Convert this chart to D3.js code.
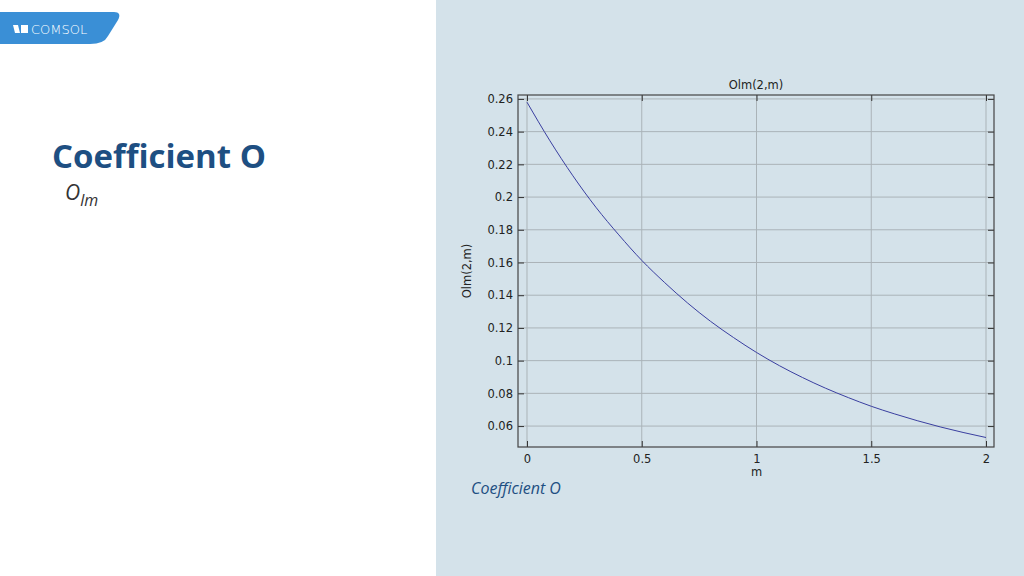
<!DOCTYPE html><html><head><script src="https://cdn.jsdelivr.net/npm/d3@7"></script>
<style>body{margin:0}svg{display:block}</style></head><body><svg id="c" width="1024" height="576"></svg>
<script>
const mValues=[0,0.1,0.2,0.3,0.4,0.5,0.6,0.7,0.8,0.9,1.0,1.1,1.2,1.3,1.4,1.5,1.6,1.7,1.8,1.9,2.0];
const olmValues=[0.258,0.2344,0.2130,0.1938,0.1769,0.1613,0.1477,0.1352,0.1240,0.1141,0.1050,0.0969,0.0897,0.0832,0.0774,0.0721,0.0675,0.0633,0.0595,0.0561,0.053];
const xTicks=[0,0.5,1,1.5,2];
const yTicks=[0.06,0.08,0.1,0.12,0.14,0.16,0.18,0.2,0.22,0.24,0.26];
const svg=d3.select("#c");
svg.append("rect").attr("width",1024).attr("height",576).attr("fill","#fff");
svg.append("rect").attr("x",436).attr("width",588).attr("height",576).attr("fill","#d4e2ea");
svg.append("path").attr("d","M0,12 H114 Q122,12 118,20 L108,36 Q104,44 90,44 H0 Z").attr("fill","#3a8fd6");
svg.append("text").attr("x",31).attr("y",34).attr("fill","#fff").attr("font-family","DejaVu Sans").attr("font-size",13).attr("font-weight",300).text("COMSOL");
svg.append("path").attr("d","M13,25 L18,25 L20,33 L15,33 Z").attr("fill","#fff");
svg.append("rect").attr("x",21).attr("y",25).attr("width",7).attr("height",8).attr("fill","#fff");
svg.append("text").attr("x",52).attr("y",168).attr("fill","#1e4f82").attr("font-family","Open Sans").attr("font-weight",700).attr("font-size",33).text("Coefficient O");
const s=svg.append("text").attr("x",65).attr("y",200).attr("fill","#333").attr("font-family","Open Sans").attr("font-style","italic").attr("font-size",21);
s.append("tspan").text("O");s.append("tspan").attr("dy",6).attr("font-size",16).text("lm");
svg.append("text").attr("x",471).attr("y",494).attr("fill","#1e4f82").attr("font-family","Open Sans").attr("font-style","italic").attr("font-size",16).text("Coefficient O");
const L=518,R=994,T=95,B=447;
const x=d3.scaleLinear().domain([-0.0392,2.0348]).range([L,R]);
const y=d3.scaleLinear().domain([0.0472,0.2624]).range([B,T]);
const g=svg.append("g");
g.selectAll(".gx").data(xTicks).join("line").attr("x1",d=>x(d)).attr("x2",d=>x(d)).attr("y1",T).attr("y2",B).attr("stroke","#aab3b8").attr("stroke-width",1);
g.selectAll(".gy").data(yTicks).join("line").attr("y1",d=>y(d)).attr("y2",d=>y(d)).attr("x1",L).attr("x2",R).attr("stroke","#aab3b8").attr("stroke-width",1);
const ax=g.append("g").attr("transform",`translate(0,${B})`).call(d3.axisBottom(x).tickValues(xTicks).tickFormat(d3.format("")).tickSizeInner(-6).tickSizeOuter(0).tickPadding(8));
const ay=g.append("g").attr("transform",`translate(${L},0)`).call(d3.axisLeft(y).tickValues(yTicks).tickFormat(d=>String(+d.toFixed(2))).tickSizeInner(-6).tickSizeOuter(0).tickPadding(5));
const at=g.append("g").attr("transform",`translate(0,${T})`).call(d3.axisTop(x).tickValues(xTicks).tickFormat("").tickSizeInner(-6).tickSizeOuter(0));
const ar=g.append("g").attr("transform",`translate(${R},0)`).call(d3.axisRight(y).tickValues(yTicks).tickFormat("").tickSizeInner(-6).tickSizeOuter(0));
[ax,ay,at,ar].forEach(a=>{a.select(".domain").remove();a.selectAll("text").attr("font-family","DejaVu Sans").attr("font-size",11.5).attr("fill","#222");a.selectAll("line").attr("stroke","#333");});
g.append("rect").attr("x",L).attr("y",T).attr("width",R-L).attr("height",B-T).attr("fill","none").attr("stroke","#444").attr("stroke-width",1.2);
g.append("path").datum(mValues.map((m,i)=>[m,olmValues[i]])).attr("d",d3.line().x(d=>x(d[0])).y(d=>y(d[1])).curve(d3.curveMonotoneX)).attr("fill","none").attr("stroke","#3a3fa0").attr("stroke-width",1);
svg.append("text").attr("x",(L+R)/2).attr("y",89).attr("text-anchor","middle").attr("font-family","DejaVu Sans").attr("font-size",11.5).attr("fill","#222").text("Olm(2,m)");
svg.append("text").attr("x",x(1)).attr("y",476).attr("text-anchor","middle").attr("font-family","DejaVu Sans").attr("font-size",11.5).attr("fill","#222").text("m");
svg.append("text").attr("transform",`translate(471,${(T+B)/2}) rotate(-90)`).attr("text-anchor","middle").attr("font-family","DejaVu Sans").attr("font-size",11.5).attr("fill","#222").text("Olm(2,m)");
</script></body></html>
